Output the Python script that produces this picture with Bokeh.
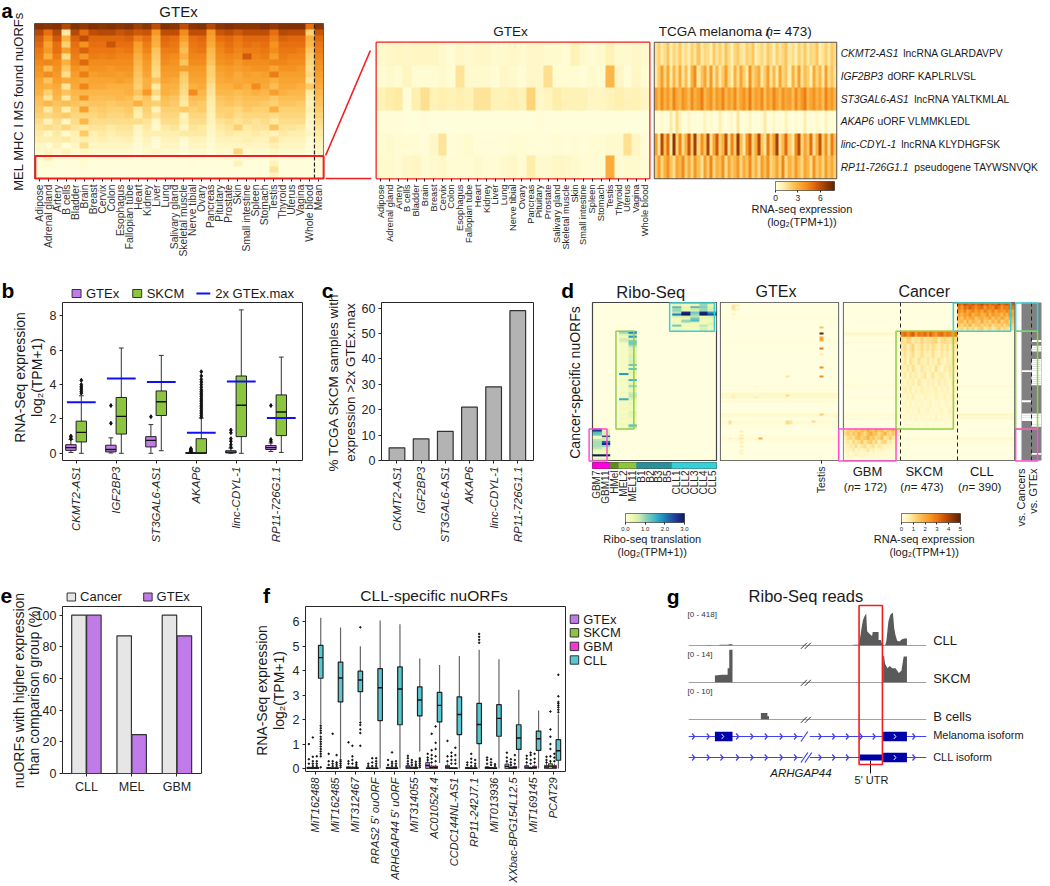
import math
import numpy as np
from bokeh.embed import file_html
from bokeh.resources import INLINE
from bokeh.plotting import figure
from bokeh.models import LinearColorMapper, FixedTicker, Range1d, Column
from bokeh.core.properties import value

# ---------------- panel a data (values in tenths of log2(TPM+1)) ----------------
tissues_a_left = ["Adipose","Adrenal gland","Artery","B cells","Bladder","Brain","Breast","Cervix","Colon","Esophagus","Fallopian tube","Heart","Kidney","Liver","Lung","Salivary gland","Skeletal muscle","Nerve tibial","Ovary","Pancreas","Pituitary","Prostate","Skin","Small intestine","Spleen","Stomach","Testis","Thyroid","Uterus","Vagina","Whole blood","Mean"]
tissues_a_mid = ["Adipose","Adrenal gland","Artery","B cells","Bladder","Brain","Breast","Cervix","Colon","Esophagus","Fallopian tube","Heart","Kidney","Liver","Lung","Nerve tibial","Ovary","Pancreas","Pituitary","Prostate","Salivary gland","Skeletal muscle","Skin","Small intestine","Spleen","Stomach","Testis","Thyroid","Uterus","Vagina","Whole blood"]
a_main = [
[72,70,72,62,72,68,72,70,72,70,72,66,70,60,72,70,60,70,72,62,70,72,70,70,70,72,68,72,72,72,50,70],
[62,50,62,12,62,50,60,62,62,58,60,56,58,38,60,60,42,60,60,38,58,60,56,60,60,60,50,62,60,60,20,58],
[55,42,56,30,54,60,52,52,52,52,54,45,50,32,52,50,36,50,52,35,50,52,48,52,52,52,45,54,52,52,30,52],
[52,35,50,20,50,40,50,50,58,50,50,36,46,30,50,48,30,48,50,32,46,50,46,50,48,50,40,50,50,50,28,48],
[48,38,50,36,48,54,48,48,48,46,48,34,44,24,46,46,26,46,48,28,44,48,44,46,46,48,42,48,48,46,24,46],
[46,30,46,16,46,38,46,45,46,44,44,30,40,22,44,42,30,44,44,26,42,44,42,56,44,46,36,46,44,44,20,44],
[43,44,42,30,44,52,42,42,42,42,42,28,38,20,42,40,24,42,42,24,40,42,38,42,42,42,44,44,42,42,18,41],
[40,26,40,22,40,36,40,40,38,40,40,26,36,18,38,38,36,38,38,20,36,38,36,38,40,40,34,40,40,38,16,39],
[38,42,38,16,36,46,36,38,38,36,38,24,34,16,36,36,22,36,36,20,34,36,32,36,34,36,46,36,36,36,18,36],
[34,24,36,32,34,32,34,34,34,36,34,22,30,24,34,32,20,34,34,18,32,34,32,34,34,34,30,34,34,34,14,34],
[32,30,32,14,32,44,32,32,30,30,30,20,30,12,30,30,18,30,32,15,30,30,34,30,42,32,26,32,32,30,22,31],
[30,20,30,24,28,28,28,28,28,28,30,24,38,18,30,28,16,42,28,14,28,28,26,28,30,28,36,30,28,28,12,28],
[26,14,28,12,26,40,26,26,26,28,26,18,24,10,26,24,14,26,26,12,24,26,24,26,26,26,22,26,26,26,10,26],
[24,28,24,26,24,22,24,24,22,24,24,30,22,20,24,22,12,24,22,11,22,24,22,24,24,22,20,24,24,22,8,24],
[22,12,22,10,20,36,20,22,20,20,22,12,20,8,20,20,22,20,22,10,20,20,18,22,20,20,30,20,20,20,10,21],
[20,18,20,22,18,18,18,20,18,18,20,10,18,14,18,18,8,18,18,9,18,20,16,18,18,18,16,18,18,18,7,19],
[16,8,16,6,16,28,16,16,16,16,16,16,14,6,16,16,10,16,16,8,14,16,14,16,14,16,12,16,16,16,5,16],
[14,16,14,18,14,12,14,14,12,14,14,7,12,4,12,14,6,14,12,6,12,14,20,12,14,14,24,14,14,12,4,14],
[12,6,12,4,10,22,10,12,10,12,12,5,10,10,10,10,12,12,12,5,10,12,10,10,12,10,8,12,10,10,6,12],
[10,10,10,12,8,10,8,10,8,8,10,4,8,3,8,8,4,8,8,4,8,8,8,10,8,8,14,8,8,8,3,10],
[6,3,8,2,6,16,6,6,6,6,6,3,6,2,6,6,3,6,6,3,6,6,6,6,6,6,10,6,6,6,2,8],
[4,6,4,8,4,6,4,4,4,4,4,2,4,6,4,4,2,4,4,2,4,4,18,4,4,4,6,4,4,4,1,5],
[2,10,2,2,2,3,2,2,2,2,2,1,2,1,2,2,2,2,2,1,2,2,2,2,2,2,3,2,2,2,1,2],
[1,3,1,1,1,3,1,1,1,1,1,1,1,1,1,1,1,2,1,1,1,1,8,1,1,1,8,1,1,1,1,1],
[1,1,1,1,1,2,1,1,1,1,1,1,1,1,1,1,1,1,1,1,1,1,1,1,1,1,14,1,1,1,1,1],
[1,1,1,1,1,1,1,1,1,1,1,1,1,1,1,1,1,1,1,1,1,1,1,1,1,1,6,1,1,1,1,1],
]
a_gtex = [
[4,5,6,5,6,6,6,4,3,5,4,5,5,4,4,5,4,5,5,4,4,3,9,4,3,4,9,4,4,5,4],
[3,4,3,7,3,3,3,4,3,14,4,4,4,3,5,4,3,5,5,15,3,3,3,2,4,3,28,6,2,6,3],
[9,11,12,2,10,15,9,10,9,10,9,14,14,9,9,10,9,19,5,7,11,9,9,9,6,6,8,10,8,9,6],
[2,2,2,1,1,2,1,1,1,1,1,1,1,1,1,1,1,1,2,1,1,1,1,1,1,1,1,1,1,1,1],
[3,4,3,3,3,2,5,14,2,3,4,2,2,2,2,3,3,2,2,2,3,2,3,2,3,3,4,4,15,6,2],
[4,4,3,5,6,3,4,5,3,3,3,4,3,3,4,5,3,11,4,4,6,5,4,3,3,3,31,3,4,4,3],
]
a_labels_italic = ["CKMT2-AS1","IGF2BP3","ST3GAL6-AS1","AKAP6","linc-CDYL-1","RP11-726G1.1"]
a_labels_plain = ["lncRNA GLARDAVPV","dORF KAPLRLVSL","lncRNA YALTKMLAL","uORF VLMMKLEDL","lncRNA KLYDHGFSK","pseudogene TAYWSNVQK"]
a_tcga = [
[14,20,12,16,24,10,18,14,22,12,16,10,20,14,24,12,18,16,10,22,14,20,12,24,16,10,18,22,14,12,20,16,24,10,14,18,12,22,16,10,20,14,18,24,12,16,10,20,14,22,12,18,16,24,10,14,20,12,22,16],
[12,22,36,18,34,12,28,16,32,14,26,10,30,42,12,24,34,16,38,14,28,12,22,36,18,10,30,16,34,20,12,40,18,26,32,12,22,36,14,28,12,34,18,24,10,30,16,36,14,26,20,10,32,18,28,12,36,16,24,14],
[36,28,42,30,38,26,44,32,28,40,34,26,42,30,36,46,28,34,40,26,38,32,44,28,36,30,42,26,34,40,30,46,28,36,32,42,26,38,30,44,34,28,40,32,36,26,42,30,38,46,28,34,40,30,36,26,44,32,38,28],
[3,1,4,2,1,12,3,16,8,1,2,6,1,3,1,2,8,1,4,2,1,10,3,1,2,5,1,14,2,1,3,7,1,2,1,4,12,1,2,6,1,3,1,9,2,1,4,1,2,11,1,3,1,5,2,1,8,1,3,1],
[36,14,62,26,50,12,70,20,44,16,30,58,22,66,18,40,24,64,14,34,56,20,30,60,16,44,22,68,26,12,38,54,18,32,62,24,14,48,20,36,66,16,28,52,22,12,42,60,18,34,24,50,14,30,58,20,40,16,46,24],
[22,36,18,30,40,24,16,34,28,42,20,32,18,38,26,14,36,22,44,18,30,26,40,16,34,22,28,38,18,32,24,42,20,30,16,36,26,40,18,24,34,20,44,16,30,22,38,26,18,34,28,16,40,22,30,18,36,24,32,20],
]
cb_a_ticks = [0, 3, 6]

# ---------------- panel b data ----------------
genes = ["CKMT2-AS1","IGF2BP3","ST3GAL6-AS1","AKAP6","linc-CDYL-1","RP11-726G1.1"]
b_gtex_q1  = [0.17,0.08,0.37,0.00,0.02,0.22]
b_gtex_med = [0.33,0.22,0.75,0.01,0.07,0.33]
b_gtex_q3  = [0.50,0.47,0.97,0.04,0.15,0.45]
b_gtex_lo  = [0.05,0.02,0.00,0.00,0.00,0.10]
b_gtex_hi  = [0.80,0.90,1.67,0.08,0.30,0.60]
b_gtex_out = [[0.85,0.95,1.0],[1.75,2.78],[2.13],[0.1,0.13,0.17,0.2,0.24,0.28],[0.35,0.5,0.7,0.85,1.2,1.35],[0.7,0.8,2.78]]
b_skcm_q1  = [0.66,1.12,2.20,0.00,0.97,1.03]
b_skcm_med = [1.22,2.15,3.00,0.02,2.80,2.40]
b_skcm_q3  = [1.87,3.25,3.63,0.85,4.50,3.40]
b_skcm_lo  = [0.00,0.00,0.15,0.00,0.00,0.05]
b_skcm_hi  = [3.35,6.13,5.70,2.05,8.35,5.60]
b_skcm_out = [[3.5,3.6,3.7,3.8,3.9,4.0,4.25],[],[],[2.1,2.2,2.3,2.4,2.5,2.6,2.7,2.8,2.9,3.0,3.1,3.2,3.3,3.4,3.5,3.6,3.7,3.85,4.0,4.15,4.3,4.5,4.75],[],[]]
b_max = [2.97,4.35,4.15,1.20,4.18,2.05]

# ---------------- panel c data ----------------
c_pct = [5.0,8.5,11.5,21.0,29.0,59.0]

# ---------------- panel d data ----------------
ribo_samples = ["GBM7","GBM11","HMel","MEL2","MEL11","B1","B2","B3","B5","CLL1","CLL2","CLL3","CLL4","CLL5"]
ribo_sample_colors = ["#FF00DD","#FF00DD","#5E8A1E","#8CC63F","#8CC63F","#2A8F97","#2A8F97","#2A8F97","#2A8F97","#35D0D8","#35D0D8","#35D0D8","#35D0D8","#35D0D8"]
d_rows_cll, d_rows_skcm, d_rows_gbm = 15, 52, 17
ribo_cll = [
[5,3,4,10,5],[4,3,4,10,4],[18,4,20,12,5],[10,4,8,10,6],[10,4,6,10,6],[8,28,12,28,18],[20,30,10,30,24],
[6,6,8,4,6],[3,4,12,4,4],[3,10,14,3,3],[3,10,6,3,3],[3,3,3,3,5],[12,3,3,8,4],[3,2,3,5,3],[4,3,2,6,3],
]
ribo_mel = [[12,14],[10,20],[5,8],[3,18],[6,5],[7,10],[5,12],[2,12],[2,9],[2,5],[2,5],[2,4],[2,5],[2,5],[2,6],[2,5],[2,6],[2,5],
[2,12],[2,4],[2,13],[2,4],[2,5],[18,4],[2,3],[2,3],[3,15],[2,3],[2,5],[2,10],[2,5],[2,4],[2,4],[3,7],[2,8],[3,7],[16,5],[3,3],
[2,4],[3,3],[2,3],[3,3],[2,3],[2,5],[3,4],[2,4],[3,3],[2,3],[2,3],[3,3],[2,14],[3,8]]
ribo_gbm = [[28,4],[26,5],[14,6],[12,6],[3,30],[3,8],[8,6],[9,22],[9,28],[9,10],[8,5],[4,4],[2,2],[3,3],[30,30],[2,2],[6,6]]
gtex_d_rows = [1,2,3,1,3,6,13,16,18,19,20,24,27,34,39,59,39,49,63,64,63,64,63,64,72,68,70,72,74,76,78,80,44,72,72,50,48,49,50,63]
gtex_d_cols = [3,3,3,4,4,3,26,26,26,26,26,26,26,26,26,26,17,17,17,17,18,18,2,2,10,5,5,5,5,5,5,5,9,2,4,3,17,3,9,24]
gtex_d_vals = [8,9,7,7,5,5,15,50,20,22,18,30,7,25,26,14,8,10,10,10,8,8,9,9,20,6,7,8,6,6,5,6,3,5,4,5,4,6,6,10]
gtex_d_stripe_rows = [8,21,44,46,48,49,50,52,59,60,63,64,70,72,73]
gtex_d_stripe_vals = [1,1,1,2,3,3,3,2,3,2,2,2,1,2,1]
cancer_cll = [
[35,30,38,34,32,36,30,34,38,32,36,30,34,32,38,30,34,36,32,35],
[30,24,32,28,34,30,26,30,32,24,30,28,26,34,30,24,30,28,32,30],
[26,22,28,20,24,28,22,26,20,28,24,22,28,20,26,24,22,28,24,20],
[22,18,24,20,26,18,22,24,18,20,26,18,24,20,22,16,24,18,26,22],
[18,14,22,16,20,22,14,18,20,16,18,22,14,20,16,22,18,14,20,18],
[16,18,12,20,14,18,16,12,20,14,16,12,18,14,20,12,16,18,12,16],
[14,10,16,12,18,10,14,16,10,14,12,16,10,14,12,16,10,14,16,12],
[10,12,8,14,10,12,8,12,14,8,10,12,8,10,14,8,12,10,8,10],
]
cancer_skcm = [
[28,32,26,30,34,24,30,28,32,26,34,28,24,30,32,26,30,28,24,30],
[10,8,12,11,7,9,8,12,8,10,9,11,12,7,10,11,9,8,12,10],
[8,10,6,9,12,6,8,10,7,9,6,10,8,6,9,7,10,6,8,7],
[6,9,5,8,10,5,7,9,6,7,5,9,6,5,8,6,8,5,7,6],
[5,8,4,10,7,5,9,6,5,8,4,7,5,9,6,4,7,6,8,5],
[7,5,8,4,9,6,4,8,6,5,7,4,9,5,3,7,5,8,4,6],
[4,7,3,8,5,7,4,6,8,3,6,8,4,6,7,5,3,7,5,3],
[5,3,6,4,7,3,8,5,3,6,4,6,3,7,4,6,5,3,6,4],
[3,6,4,7,3,5,3,6,4,5,3,4,6,3,5,3,6,4,3,5],
[4,3,5,3,6,3,4,3,5,3,4,3,5,4,3,5,3,4,5,3],
[2,4,3,5,2,4,3,4,2,3,5,2,3,4,2,3,4,2,3,4],
[3,2,4,2,3,2,5,2,3,4,2,3,2,3,4,2,3,5,2,3],
[2,3,2,3,2,4,2,3,2,2,3,2,4,2,3,2,2,3,2,2],
[1,2,1,2,2,1,2,1,2,2,1,2,1,2,1,2,2,1,2,1],
]
cancer_gbm = [
[8,12,14,10,16,12,18,14,20,16,12,20,14,18,10,16,14,18,12,8],
[10,14,10,16,12,18,14,10,16,20,14,16,10,14,18,12,10,14,10,6],
[6,10,12,8,14,16,12,14,18,12,16,10,12,16,8,10,14,8,6,5],
[5,8,6,12,8,10,14,8,12,14,8,12,6,10,12,6,8,5,4,3],
[4,6,8,5,10,6,8,10,6,8,10,5,8,6,4,5,3,4,3,2],
[3,5,4,8,3,6,4,5,8,4,6,3,4,5,3,2,3,2,2,2],
[2,4,2,3,5,3,2,4,3,2,3,2,3,2,2,2,1,2,1,1],
[1,2,3,2,1,2,3,2,1,2,2,1,2,1,1,1,1,1,1,1],
]
cancer_stripe_rows = [16,17,21,43,44,50,59,60,61,72,73,75]
cancer_stripe_gbm  = [4,2,2,1,1,1,2,1,1,0,0,0]
cancer_stripe_skcm = [0,0,0,0,0,0,0,0,0,2,1,1]
cancer_stripe_cll  = [0,0,0,0,2,1,4,2,3,3,1,1]
vs_cancer_white_rows = [36,52,59,60,61,62]
vs_gtex_white_rows = [20,23,24,25,30,31,32,33,34,35,36,37,38,39,40,41,42,43,59,60,61,62,63,64,65,80]
cb_ribo_ticks = [0.0,1.0,2.0,3.0]
cb_rna_ticks = [0,1,2,3,4,5]

# ---------------- panel e data ----------------
e_groups = ["CLL","MEL","GBM"]
e_cancer = [100,87,100]
e_gtex = [100,24.5,87]

# ---------------- panel f data ----------------
f_names = ["MiT162488","MiT162485","MiT312467","RRAS2 5' ouORF","ARHGAP44 5' uORF","MiT314055","AC010524.4","CCDC144NL-AS1","RP11-242J7.1","MiT013936","XXbac-BPG154L12.5","MiT169145","PCAT29"]
f_cll_q1  = [3.69,2.72,3.14,1.96,1.79,2.15,1.91,1.39,1.02,1.32,0.78,0.74,0.34]
f_cll_med = [4.53,3.70,3.62,3.30,3.25,2.80,2.58,2.21,1.80,2.05,1.25,1.22,0.73]
f_cll_q3  = [5.03,4.35,3.98,4.08,4.15,3.34,3.11,2.93,2.66,2.61,1.79,1.53,1.18]
f_cll_lo  = [1.80,0.40,1.95,0.00,0.00,0.70,0.23,0.00,0.00,0.00,0.00,0.00,0.00]
f_cll_hi  = [6.16,5.76,5.00,6.05,5.89,4.50,4.23,4.60,4.85,4.47,3.22,2.37,2.22]
f_cll_out = [[1.75,1.65,1.55,1.45,1.3,1.2,1.1,1.0,0.9,0.8,0.7,0.6,0.5,0.05],[0.35,0.28,0.2,0.12,0.05],[5.77,1.88,1.78,1.6,1.45,0.93],[],[],[0.42,0.35,0.28,0.2,0.12,0.05],[],[],[5.5,5.38,5.26,5.14],[],[],[],[2.3,2.4,2.5,2.58,2.66,2.72,2.95,3.83]]
f_gtex_q3 = [0.05,0.04,0.07,0.03,0.05,0.12,0.25,0.13,0.05,0.07,0.18,0.12,0.13]
f_skcm_q3 = [0.04,0.03,0.06,0.02,0.03,0.06,0.10,0.03,0.03,0.04,0.06,0.05,0.20]
f_gbm_q3  = [0.04,0.03,0.05,0.02,0.03,0.05,0.10,0.03,0.03,0.03,0.08,0.10,0.13]
f_gtex_out = [[0.2,0.38,1.0],[0.15,0.3,0.6],[0.2,0.3,1.07],[0.1,0.2],[0.15,0.35],[0.2,0.3,0.42,0.52],[0.35,0.45,0.6],[0.3,0.5,1.13],[0.15,0.25],[0.2,0.35,0.45],[0.3,0.45,0.65],[0.25,0.4,0.52],[0.25,0.35,0.48]]
f_skcm_out = [[0.1,0.2,0.3,0.48,1.27],[0.1,0.2,0.3,1.42],[0.2,0.35,0.5,0.93],[0.1,0.25,0.42],[0.1,0.2,0.28,0.66],[0.15,0.25,0.35],[0.25,0.4,0.55,0.75,1.42],[0.2,0.35,0.5,0.65],[0.1,0.25,0.4,0.6],[0.15,0.25,0.38],[0.15,0.25,0.38],[0.2,0.35,0.55,0.65],[0.3,0.5,0.8,1.0,1.3,1.6,2.33]]
f_gbm_out = [[0.1,0.2,0.3,0.5],[0.1,0.18,0.25,0.55],[0.1,0.18,0.25],[0.1,0.2,0.3,0.42],[0.1,0.2,0.3],[0.1,0.18,0.28],[0.3,0.5,0.8,1.05,1.72],[0.2,0.35,0.55,0.85],[0.1,0.2,0.35],[0.1,0.18],[0.2,0.35,0.55],[0.25,0.4,0.6],[0.3,0.45,0.6]]

# ---------------- panel g data (x in track units, y in reads) ----------------
g_cll_x = [198,198,218,218,240,240,268,268,280,280,650,650,668,670,675,680,685,690,693,700,708,710,728,728,735,738,742,745,748,752,758,764,772,776,780,785,792,800,807,815,815]
g_cll_y = [0,5,5,0,0,8,8,15,15,0,0,10,10,60,200,320,370,405,180,150,120,170,170,70,70,25,10,0,0,60,300,390,418,220,130,60,50,80,90,90,0]
g_skcm_x = [226,226,248,265,265,270,270,280,280,742,742,745,748,755,762,770,780,790,798,805,815,815]
g_skcm_y = [0,3,3.3,3.3,6,6,14,14,0,0,11.5,11,8,6,7,6,6,4,5,11,11,0]
g_b_x = [367,367,387,387,392,392]
g_b_y = [0,2,2,1,1,0]
g_mel_chevrons = [160,205,247,295,339,383,429,473,548,590,632,674,714,836]
g_cll_chevrons = [160,205,247,295,339,383,429,473,548,590,632,836]
g_mel_exons = [(226,280),(742,815)]
g_cll_exons = [(742,815)]
g_cll_utr = (671,740)
g_exon_chevrons = [250,778]

FONT = value("Liberation Sans")
FN = "Liberation Sans"
INK = "#262626"
LOW = "#FFFFDF"

def ramp(stops, n=256):
    rgb = np.array([[int(s[i:i+2], 16) for i in (1, 3, 5)] for s in stops], float)
    t = np.linspace(0, len(stops) - 1, n)
    return ["#%02X%02X%02X" % tuple(int(round(np.interp(u, range(len(stops)), rgb[:, k]))) for k in range(3)) for u in t]

ORANGE = ramp(["#FFFFE0", "#FFF0B0", "#FDD070", "#FBB040", "#F59420", "#E87010", "#C04E06", "#8C3504", "#5A2304"])
BLUES = ramp(["#FFFFD9", "#EDF8B1", "#C7E9B4", "#7FCDBB", "#41B6C4", "#1D91C0", "#225EA8", "#253494", "#081D58"])
map_a = LinearColorMapper(palette=ORANGE, low=0, high=8)
map_rna = LinearColorMapper(palette=ORANGE, low=0, high=5)
map_ribo = LinearColorMapper(palette=BLUES, low=0, high=3)

children = []
MINL = 30  # the layout keeps at least this much room left of every frame

def panel(x0, y0, x1, y1, xr, yr, mt=4, mr=4, mb=4, outline=INK, olw=1, xa=False, ya=False):
    ml = MINL
    w = x1 - x0 + ml + mr
    h = y1 - y0 + mt + mb
    p = figure(width=w, height=h, x_range=Range1d(*xr), y_range=Range1d(*yr), output_backend="svg",
               toolbar_location=None, min_border_left=ml, min_border_right=mr, min_border_top=mt,
               min_border_bottom=mb, border_fill_color=None, background_fill_color=None,
               outline_line_color=outline, outline_line_width=olw,
               x_axis_location="below" if xa else None, y_axis_location="left" if ya else None,
               styles={"position": "absolute", "left": f"{x0 - ml}px", "top": f"{y0 - mt}px"})
    p.grid.visible = False
    children.append(p)
    return p

def xticks(p, locs, labels, size=9, italic=False, rot=True, out=3, color=INK, standoff=3):
    ax = p.xaxis[0]
    ax.ticker = FixedTicker(ticks=list(locs))
    ax.major_label_overrides = {float(a) if float(a) != int(a) else int(a): b for a, b in zip(locs, labels)}
    ax.major_label_text_font = FN
    ax.major_label_text_font_size = f"{size}px"
    ax.major_label_text_color = color
    ax.major_label_text_font_style = "italic" if italic else "normal"
    ax.major_label_standoff = standoff
    if rot:
        ax.major_label_orientation = math.pi / 2
    ax.major_tick_in = 0
    ax.major_tick_out = out
    ax.major_tick_line_color = INK
    ax.minor_tick_line_color = None
    ax.axis_line_color = None

def yticks(p, locs, size=12.5):
    ax = p.yaxis[0]
    ax.ticker = FixedTicker(ticks=list(locs))
    ax.major_label_text_font = FN
    ax.major_label_text_font_size = f"{size}px"
    ax.major_label_text_color = INK
    ax.major_label_standoff = 3
    ax.major_tick_in = 0
    ax.major_tick_out = 3
    ax.major_tick_line_color = INK
    ax.minor_tick_line_color = None
    ax.axis_line_color = None

def heat(p, m, mapper, x, y, dw, dh, scale=10.0):
    arr = np.array(m, dtype=float)[::-1] / scale
    p.image(image=[arr], x=x, y=y, dw=dw, dh=dh, color_mapper=mapper)

def colorbar(x0, y0, x1, y1, mapper, hi, ticks, labels, size):
    p = panel(x0, y0, x1, y1, (0, hi), (0, 1), mb=30, outline="#555555", olw=1, xa=True)
    levels = np.linspace(0, hi, 256).reshape(1, -1)
    p.image(image=[levels], x=0, y=0, dw=hi, dh=1, color_mapper=mapper)
    xticks(p, ticks, labels, size=size, rot=False, out=2, standoff=2)
    return p

# ---- a ----
p = panel(34, 23, 325, 178, (0, 32), (0, len(a_main)), mb=85, mt=2, outline="#555555", xa=True)
heat(p, a_main, map_a, 0, 0, 32, len(a_main))
xticks(p, [i + 0.5 for i in range(32)], tissues_a_left, size=10.3)
p.xaxis[0].major_label_text_color = "#333333"
p.segment(x0=[31], x1=[31], y0=[0], y1=[len(a_main)], line_color="#222222", line_dash="4 2", line_width=1.2)

p = panel(376, 42, 651, 178, (0, 31), (0, 6), mb=80, outline="#F01E1E", olw=2, xa=True)
heat(p, a_gtex, map_a, 0, 0, 31, 6)
xticks(p, [i + 0.5 for i in range(31)], tissues_a_mid, size=9.3)

p = panel(654, 42, 836, 178, (0, 60), (0, 6), mr=6, outline="#555555", olw=1.5)
heat(p, a_tcga, map_a, 0, 0, 60, 6)
p2 = panel(836, 42, 842, 178, (0, 1), (0, 6), mr=0, outline=None)
p2.segment(x0=[0] * 6, x1=[0.6] * 6, y0=[5.5 - i for i in range(6)], y1=[5.5 - i for i in range(6)], line_color=INK)

colorbar(775, 181, 836, 190, map_a, 7.9, cb_a_ticks, [str(v) for v in cb_a_ticks], 8.5)

# ---- b ----
p = panel(62, 302, 304, 460, (-0.34, 5.66), (-0.42, 8.78), mb=85, xa=True, ya=True)
xticks(p, range(6), genes, size=11.5, italic=True)
yticks(p, [0, 2, 4, 6, 8])

def boxes(p, xs, q1, med, q3, lo, hi, out, color, w, capw, wc="#333333", lw=1, dot="diamond", ds=4):
    p.segment(xs, lo, xs, hi, line_color=wc, line_width=lw)
    if capw > 0:
        xa = [x - capw / 2 for x in xs]
        xb = [x + capw / 2 for x in xs]
        p.segment(xa, lo, xb, lo, line_color=wc, line_width=lw)
        p.segment(xa, hi, xb, hi, line_color=wc, line_width=lw)
    p.vbar(x=xs, width=w, bottom=q1, top=q3, fill_color=color, line_color="#222222", line_width=lw)
    xa = [x - w / 2 for x in xs]
    xb = [x + w / 2 for x in xs]
    p.segment(xa, med, xb, med, line_color="#111111", line_width=1.4)
    ox = [x for x, o in zip(xs, out) for _ in o]
    oy = [v for o in out for v in o]
    p.scatter(ox, oy, marker=dot, size=ds, color="#111111")

PURPLE, GREEN, MAGENTA, CYAN = "#C07BE8", "#8CC63F", "#FF33DD", "#55C8D2"
xa = [i - 0.13 for i in range(6)]
xb = [i + 0.13 for i in range(6)]
boxes(p, xa, b_gtex_q1, b_gtex_med, b_gtex_q3, b_gtex_lo, b_gtex_hi, b_gtex_out, PURPLE, 0.26, 0.12)
boxes(p, xb, b_skcm_q1, b_skcm_med, b_skcm_q3, b_skcm_lo, b_skcm_hi, b_skcm_out, GREEN, 0.26, 0.12)
p.segment([x - 0.36 for x in xb], b_max, [x + 0.36 for x in xb], b_max, line_color="#1010F0", line_width=2)

# ---- c ----
p = panel(381, 302, 535, 460, (-0.64, 5.65), (0, 62.2), mb=85, xa=True, ya=True)
xticks(p, range(6), genes, size=11.5, italic=True)
yticks(p, range(0, 70, 10))
p.vbar(x=list(range(6)), width=0.65, top=c_pct, bottom=0, fill_color="#B3B3B3", line_color="#333333", line_width=1.2)

# ---- d ----
N = d_rows_cll + d_rows_skcm + d_rows_gbm
r_mel0 = d_rows_cll
r_gbm0 = d_rows_cll + d_rows_skcm
p = panel(592, 302, 718, 460, (0, 14), (0, N), outline="#444444", olw=1.2)
p.background_fill_color = LOW
heat(p, ribo_cll, map_ribo, 9, N - d_rows_cll, 5, d_rows_cll)
heat(p, ribo_mel, map_ribo, 3, N - r_gbm0, 2, d_rows_skcm)
heat(p, ribo_gbm, map_ribo, 0, 0, 2, d_rows_gbm)

p = panel(592, 462, 718, 468, (0, 14), (0, 1), mb=50, outline="#444444", xa=True)
p.vbar(x=[i + 0.5 for i in range(14)], width=1, top=1, bottom=0, fill_color=ribo_sample_colors, line_color=ribo_sample_colors)
xticks(p, [i + 0.5 for i in range(14)], ribo_samples, size=10, out=0, standoff=2)

p = panel(720, 302, 840, 460, (0, 31), (0, N), mb=50, outline="#444444", olw=1.2, xa=True)
p.background_fill_color = LOW
m = np.zeros((N, 31))
for r, v in zip(gtex_d_stripe_rows, gtex_d_stripe_vals):
    m[r, :] = v
for r, c, v in zip(gtex_d_rows, gtex_d_cols, gtex_d_vals):
    m[r, c] = v
heat(p, m, map_rna, 0, 0, 31, N)
xticks(p, [tissues_a_mid.index("Testis") + 0.5], ["Testis"], size=10.5)

p = panel(843, 302, 1016, 460, (0, 3), (0, N), outline="#444444", olw=1.2)
p.background_fill_color = LOW
for col, vals in enumerate([cancer_stripe_gbm, cancer_stripe_skcm, cancer_stripe_cll]):
    m = np.zeros((N, 1))
    for r, v in zip(cancer_stripe_rows, vals):
        m[r, 0] = v
    heat(p, m, map_rna, col, 0, 1, N)
heat(p, cancer_gbm, map_rna, 0, 0, 1, d_rows_gbm)
heat(p, cancer_skcm, map_rna, 1, N - r_gbm0, 1, d_rows_skcm)
heat(p, cancer_cll, map_rna, 2, N - d_rows_cll, 1, d_rows_cll)
p.segment([1, 2], [0, 0], [1, 2], [N, N], line_color="#222222", line_dash="4 3", line_width=1)

p = panel(1021, 302, 1043, 460, (0, 2), (0, N), mb=6, outline=None)
p.background_fill_color = "#808080"
p.quad(left=0, right=1, top=[N - r for r in vs_cancer_white_rows], bottom=[N - r - 1 for r in vs_cancer_white_rows], fill_color="white", line_color=None)
p.quad(left=1, right=2, top=[N - r for r in vs_gtex_white_rows], bottom=[N - r - 1 for r in vs_gtex_white_rows], fill_color="white", line_color=None)
p.segment([1], [0], [1], [N], line_color="#222222", line_dash="4 3", line_width=1)

colorbar(625, 513, 686, 522, map_ribo, 3.0, cb_ribo_ticks, ["%.1f" % v for v in cb_ribo_ticks], 6)
colorbar(901, 513, 962, 522, map_rna, 5, cb_rna_ticks, [str(v) for v in cb_rna_ticks], 6)

# ---- e ----
p = panel(62, 606, 203, 773, (-0.528, 2.543), (0, 105.5), mb=30, xa=True, ya=True)
xticks(p, range(3), e_groups, size=12.5, rot=False)
yticks(p, range(0, 120, 20))
p.vbar(x=[i - 0.165 for i in range(3)], width=0.32, top=e_cancer, bottom=0, fill_color="#E6E6E6", line_color="#333333", line_width=1.2)
p.vbar(x=[i + 0.165 for i in range(3)], width=0.32, top=e_gtex, bottom=0, fill_color=PURPLE, line_color="#333333", line_width=1.2)

# ---- f ----
p = panel(305, 606, 567, 773, (-0.5, 12.63), (-0.12, 6.62), mb=112, xa=True, ya=True)
xticks(p, range(13), f_names, size=11, italic=True)
yticks(p, range(0, 7))
zero13 = [0.0] * 13
for off, col, q3, out in [(-0.33, PURPLE, f_gtex_q3, f_gtex_out), (-0.13, GREEN, f_skcm_q3, f_skcm_out), (0.07, MAGENTA, f_gbm_q3, f_gbm_out)]:
    xs = [i + off for i in range(13)]
    boxes(p, xs, zero13, [v / 2 for v in q3], q3, zero13, [v * 1.6 for v in q3], out, col, 0.2, 0, wc="#444444", lw=0.8, dot="circle", ds=1.5)
xs = [i + 0.27 for i in range(13)]
boxes(p, xs, f_cll_q1, f_cll_med, f_cll_q3, f_cll_lo, f_cll_hi, f_cll_out, CYAN, 0.23, 0, wc="#666666", lw=1.2, dot="circle", ds=1.5)

# ---- g ----
G0, G1 = 145, 875
def track(y0, y1, top, xs, ys):
    q = panel(688, y0, 932, y1, (G0, G1), (0, top), mr=0, mt=0, mb=1, outline=None)
    q.varea(x=xs, y1=[0] * len(xs), y2=ys, fill_color="#5A5A5A")
    q.segment([G0], [0], [G1], [0], line_color="#444444", line_width=1.2)
    return q
q1 = track(612, 645, 418, g_cll_x, g_cll_y)
q2 = track(649, 682, 14, g_skcm_x, g_skcm_y)
q3 = track(686, 719, 10, g_b_x, g_b_y)

def isoform(yc, exons, chevrons, brk):
    q = panel(688, yc - 6, 932, yc + 6, (G0, G1), (-1, 1), mr=0, mt=0, mb=0, outline=None)
    q.segment([G0, brk + 22], [0, 0], [brk, G1], [0, 0], line_color="#4040F0", line_width=1)
    ca, cb = [], []
    for c in chevrons:
        ca += [c - 4, c - 4]; cb += [c + 4, c + 4]
    q.segment(ca, [0.5, -0.5] * len(chevrons), cb, [0, 0] * len(chevrons), line_color="#4040F0", line_width=1.2)
    q.quad(left=[a for a, _ in exons], right=[b for _, b in exons], top=0.8, bottom=-0.8, fill_color="#0000A8", line_color=None)
    return q
qm = isoform(736, g_mel_exons, g_mel_chevrons, 495)
qc = isoform(757, g_cll_exons, g_cll_chevrons, 495)
qc.quad(left=[g_cll_utr[0]], right=[g_cll_utr[1]], top=0.5, bottom=-0.5, fill_color="#0000A8", line_color=None)
for q, chev in ((qm, g_exon_chevrons), (qc, g_exon_chevrons[1:])):
    ca, cb = [], []
    for c in chev:
        ca += [c - 3, c - 3]; cb += [c + 3, c + 3]
    q.segment(ca, [0.4, -0.4] * len(chev), cb, [0, 0] * len(chev), line_color="white", line_width=1)

# ---- overlay: texts, legends, outlines ----
ov = figure(width=1050 + MINL, height=870, x_range=Range1d(0, 1050), y_range=Range1d(870, 0), output_backend="svg",
            toolbar_location=None, min_border=0, min_border_left=MINL, border_fill_color=None, background_fill_color=None,
            outline_line_color=None, x_axis_location=None, y_axis_location=None,
            styles={"position": "absolute", "left": f"{-MINL}px", "top": "0px", "max-width": "none"})
ov.grid.visible = False
children.append(ov)

def T(x, y, s, size=11, align="left", angle=0, style="normal", color="#1A1A1A", base="middle"):
    ov.text(x=[x], y=[y], text=[s], text_font=FONT, text_font_size=f"{size}px", text_align=align,
            text_baseline=base, angle=angle, text_font_style=style, text_color=color)

V = math.pi / 2
T(1, 10.5, "a", 20, style="bold", color="black")
for s, x, y in [("b", 1, 290), ("c", 323, 290), ("d", 564, 290), ("e", 0, 595), ("f", 264, 595), ("g", 670, 596)]:
    T(x, y, s, 21, style="bold", color="black", base="alphabetic")

T(179, 11, "GTEx", 15, "center")
T(513, 31, "GTEx", 13.5, "center")
T(662, 31, "TCGA melanoma (", 13.5, "left")
T(769.5, 31, "n", 13.5, "left", style="italic")
T(777, 31, " = 473)", 13.5, "left")
T(18, 101, "MEL MHC I MS found nuORFs", 13, "center", V)
ov.segment([327, 327], [155, 178], [372, 373], [50, 178], line_color="#F01E1E", line_width=1.6)
ov.quad(left=[35], right=[325], top=[155.5], bottom=[178], fill_color=None, line_color="#F01E1E", line_width=2)

starts = [908, 892, 919, 882, 906, 919]
for i in range(6):
    y = 42 + (i + 0.5) * 136 / 6
    T(845, y, a_labels_italic[i], 10.3, style="italic")
    T(starts[i], y, a_labels_plain[i], 10.3)
T(806, 208, "RNA-seq expression", 11, "center")
T(806, 221, "(log\u2082(TPM+1))", 11, "center")

# b legend and labels
ov.quad(left=[72, 133], right=[81, 142], top=[289, 289], bottom=[297, 297], fill_color=[PURPLE, GREEN], line_color="#333333")
T(86, 293, "GTEx", 13); T(147, 293, "SKCM", 13); T(216, 293, "2x GTEx.max", 13)
ov.segment([197], [293], [211], [293], line_color="#1010F0", line_width=2)
T(20, 377, "RNA-Seq expression", 14, "center", V)
T(37, 377, "log\u2082(TPM+1)", 14, "center", V)

# c labels
T(335, 382, "% TCGA SKCM samples with", 13.5, "center", V)
T(352, 382, "expression >2x GTEx.max", 13.5, "center", V)

# d labels
T(654, 291, "Ribo-Seq", 16.5, "center"); T(780, 291, "GTEx", 16, "center"); T(929, 291, "Cancer", 16, "center")
T(578, 382, "Cancer-specific nuORFs", 14, "center", V)
cx = [872, 929, 987]
for nm, n, x in zip(["GBM", "SKCM", "CLL"], ["172", "473", "390"], cx):
    T(x, 471, nm, 13, "center")
    T(x - 24, 486, "(", 11.5); T(x - 20, 486, "n", 11.5, style="italic"); T(x - 13.5, 486, f" = {n})", 11.5)
T(1026.5, 468, "vs. Cancers", 11, "right", V)
T(1038, 468, "vs. GTEx", 11, "right", V)
T(655.5, 538, "Ribo-seq translation", 11, "center"); T(655.5, 551, "(log\u2082(TPM+1))", 11, "center")
T(929, 538, "RNA-seq expression", 11, "center"); T(929, 551, "(log\u2082(TPM+1))", 11, "center")

# block outlines in d
BC = "#35D0D8"; BG = "#8FD13F"; BM = "#FF4DD8"
def ry(r):
    return 302.5 + r * 158 / N
rib = lambda c: 592 + c * 126 / 14
ov.quad(left=[rib(9), rib(3), rib(0)], right=[rib(14), rib(5), rib(2)],
        top=[ry(0), ry(r_mel0), ry(r_gbm0)], bottom=[ry(r_mel0), ry(r_gbm0), ry(N)],
        fill_color=None, line_color=[BC, BG, BM], line_width=1.5)
can = lambda c: 843 + c * 173 / 3
ov.quad(left=[can(2), can(1), can(0)], right=[can(3), can(2), can(1)],
        top=[ry(0), ry(r_mel0), ry(r_gbm0)], bottom=[ry(r_mel0), ry(r_gbm0), ry(N)],
        fill_color=None, line_color=[BC, BG, BM], line_width=1.5)
ov.quad(left=[1021] * 3, right=[1043] * 3,
        top=[ry(0), ry(r_mel0), ry(r_gbm0)], bottom=[ry(r_mel0), ry(r_gbm0), ry(N)],
        fill_color=None, line_color=[BC, BG, BM], line_width=1.5)

# e legend & labels
ov.quad(left=[67, 144], right=[75.5, 152.5], top=[592.5, 592.5], bottom=[600.5, 600.5], fill_color=["#E6E6E6", PURPLE], line_color="#333333")
T(80, 596, "Cancer", 13); T(157, 596, "GTEx", 13)
T(19, 690, "nuORFs with higher expression", 14, "center", V)
T(33.5, 690, "than comparison group (%)", 14, "center", V)

# f
T(436, 595, "CLL-specific nuORFs", 15.5, "center")
T(263, 690, "RNA-Seq expression", 14, "center", V)
T(280, 690, "log\u2082(TPM+1)", 14, "center", V)
for i, (nm, col) in enumerate(zip(["GTEx", "SKCM", "GBM", "CLL"], [PURPLE, GREEN, MAGENTA, CYAN])):
    yy = 618.7 + i * 13.6
    ov.quad(left=[573], right=[581.5], top=[yy - 4.2], bottom=[yy + 4.2], fill_color=col, line_color="#333333")
    T(586, yy, nm, 13)

# g
T(810, 595, "Ribo-Seq reads", 16.5, "center")
T(691, 613.5, "[0 - 418]", 8, color="#333333"); T(691, 653.5, "[0 - 14]", 8, color="#333333"); T(691, 691, "[0 - 10]", 8, color="#333333")
T(938, 640, "CLL", 13); T(938, 678, "SKCM", 13); T(938, 715.5, "B cells", 13)
T(938, 734.5, "Melanoma isoform", 11); T(938, 756, "CLL isoform", 11)
T(805, 772, "ARHGAP44", 11.5, "center", style="italic")
T(876, 779, "5' UTR", 11, "center")
ov.segment([875], [760], [875], [773], line_color="#111111", line_width=1)
ov.quad(left=[863.5], right=[887], top=[605], bottom=[764], fill_color=None, line_color="#F01E1E", line_width=1.6)
for yc in (645.3, 682.3, 719.3):
    ov.segment([805, 809], [yc + 3, yc + 3], [811, 815], [yc - 3, yc - 3], line_color="#333333", line_width=1)
ov.segment([805], [741], [812], [731], line_color="#4040F0", line_width=1.2)
ov.segment([805, 809], [762, 762], [812, 816], [752, 752], line_color="#4040F0", line_width=1.2)

root = Column(children=children, width=1034, height=870)
open("out.html", "w").write(file_html(root, INLINE))
